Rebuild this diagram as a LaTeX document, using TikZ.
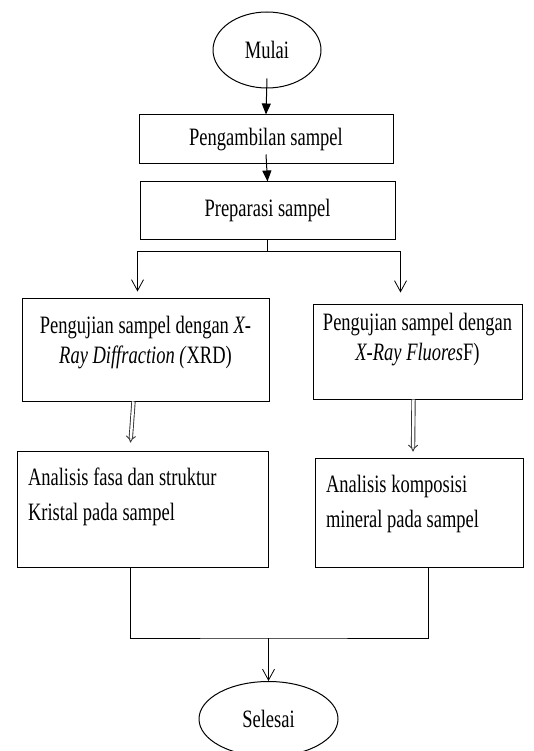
\documentclass[tikz,border=0pt]{standalone}
\usepackage{fontspec}
\setmainfont[FakeStretch=0.74]{Liberation Serif}
\usetikzlibrary{shapes.geometric,arrows.meta}
\begin{document}
\begin{tikzpicture}[x=1pt,y=-1pt,line width=1pt,
  every node/.style={font=\fontsize{25}{30}\selectfont},
  box/.style={draw,rectangle,inner sep=0pt},
  oval/.style={draw,ellipse,inner sep=0pt},
  solid arrow/.style={-{Triangle[length=11pt,width=9pt]}},
  open arrow/.style={-{Straight Barb[length=11pt,width=12pt,line width=0.8pt]}},
  twin arrow/.style={double,double distance=2.5pt,line width=0.9pt,draw=black!80,-{Implies}}]
    \newcommand{\boxtext}[5]{
        \parbox[c][#2][t]{#1}{#3\rule{0pt}{#4}\ignorespaces#5}
    }
  \useasboundingbox (0,0) rectangle (533,751);
  \node[oval,minimum width=108pt,minimum height=76pt] (mulai) at (267,50) {Mulai};
  \node[box,minimum width=254pt,minimum height=49pt] (ambil) at (266,139.5) {Pengambilan sampel};
  \node[box,minimum width=255pt,minimum height=57pt] (prep) at (267.5,210.5) {Preparasi sampel};
  \node[box] (xrd) at (145.5,349.5)
    {\boxtext{247pt}{103pt}{\centering}{35pt}{Pengujian sampel dengan \textit{X-}\\ \textit{Ray Diffraction (}XRD)}};
  \node[box] (xrf) at (417.5,351.5)
    {\boxtext{209pt}{95pt}{\centering}{26pt}{Pengujian sampel dengan\\ \textit{X-Ray Fluores}F)}};
  \node[box,font=\fontsize{25}{35}\selectfont] (fasa) at (142.5,509)
    {\boxtext{251pt}{116pt}{\raggedright\leftskip=11pt}{34pt}{Analisis fasa dan struktur\\ Kristal pada sampel}};
  \node[box,font=\fontsize{25}{35}\selectfont] (komp) at (419,512.5)
    {\boxtext{208pt}{109pt}{\raggedright\leftskip=11pt}{34pt}{Analisis komposisi\\ mineral pada sampel}};
  \node[oval,minimum width=139pt,minimum height=75pt] (selesai) at (268.5,719) {Selesai};
\draw[solid arrow] ([yshift=10pt]mulai.south) -- (ambil.north);
\draw[solid arrow] ([yshift=10pt]ambil.south) -- (prep.north);
\draw (prep.south) -- ++(0,12) coordinate (split);
\draw[open arrow] (split) -| ([xshift=-8pt,yshift=6pt]xrd.north);
\draw[open arrow] (split) -| ([xshift=-17pt,yshift=11pt]xrf.north);
\draw[twin arrow] ([xshift=-12pt]xrd.south) -- ([xshift=-12pt,yshift=8pt]fasa.north);
\draw[twin arrow] ([xshift=-4pt]xrf.south) -- ([xshift=-6pt,yshift=6pt]komp.north);
\coordinate (merge) at (268.5,638);
\draw ([xshift=-12.5pt]fasa.south) |- (merge) -| ([xshift=9pt]komp.south);
\draw[open arrow] (merge) -- (selesai.north);
\end{tikzpicture}
\end{document}
